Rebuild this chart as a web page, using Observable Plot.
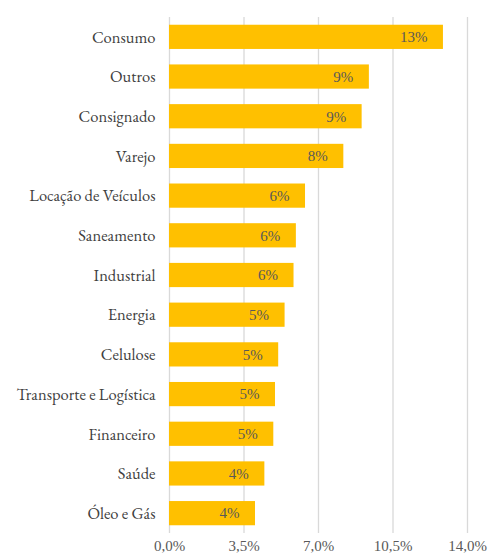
<!DOCTYPE html>
<html>
<head>
<meta charset="utf-8">
<script src="https://cdn.jsdelivr.net/npm/d3@7"></script>
<script src="https://cdn.jsdelivr.net/npm/@observablehq/plot@0.6"></script>
<style>
  html, body { margin: 0; padding: 0; background: #fff; }
  #chart { width: 499px; height: 555px; }
</style>
</head>
<body>
<div id="chart"></div>
<script>
const categories = ["Consumo", "Outros", "Consignado", "Varejo", "Locação de Veículos", "Saneamento", "Industrial", "Energia", "Celulose", "Transporte e Logística", "Financeiro", "Saúde", "Óleo e Gás"];
const values = [12.87, 9.39, 9.05, 8.19, 6.39, 5.96, 5.85, 5.43, 5.13, 4.98, 4.90, 4.48, 4.04];
const xTicks = [0, 3.5, 7, 10.5, 14];

const data = categories.map((c, i) => ({category: c, value: values[i]}));
const fmtTick = d => d.toFixed(1).replace(".", ",") + "%";
const FONT = "'EB Garamond', Garamond, 'Liberation Serif', serif";
const NUMFONT = "'Liberation Serif', 'Times New Roman', serif";

const chart = Plot.plot({
  width: 499,
  height: 555,
  marginTop: 17,
  marginBottom: 22,
  marginLeft: 169,
  marginRight: 32,
  style: {fontFamily: FONT, fontSize: "16.5px", color: "#595959", background: "#fff"},
  x: {domain: [0, 14], ticks: xTicks, tickFormat: fmtTick, label: null},
  y: {domain: categories, paddingInner: 0.39, paddingOuter: 0.195, round: false, label: null},
  marks: [
    Plot.gridX(xTicks, {stroke: "#d9d9d9", strokeOpacity: 1, strokeWidth: 1.3}),
    Plot.barX(data, {x: "value", y: "category", fill: "#FFC000"}),
    Plot.text(data, {x: "value", y: "category", text: d => Math.round(d.value) + "%", textAnchor: "end", dx: -16, fill: "#595959", fontSize: 15, className: "num"}),
    Plot.axisX(xTicks, {tickSize: 0, tickPadding: 7, tickFormat: fmtTick, fontSize: 15, label: null, fill: "#595959", className: "num"}),
    Plot.axisY({tickSize: 0, tickPadding: 14, fontSize: 16.5, label: null, fill: "#404040"})
  ]
});
d3.select(chart).attr("font-family", FONT);
d3.select(chart).selectAll("text, g").attr("font-family", FONT).style("font-family", FONT);
d3.select(chart).selectAll("g[aria-label='text'], g[aria-label='text'] text, g[aria-label='x-axis tick label'], g[aria-label='x-axis tick label'] text")
  .attr("font-family", NUMFONT).style("font-family", NUMFONT);
document.getElementById("chart").appendChild(chart);
</script>
</body>
</html>
